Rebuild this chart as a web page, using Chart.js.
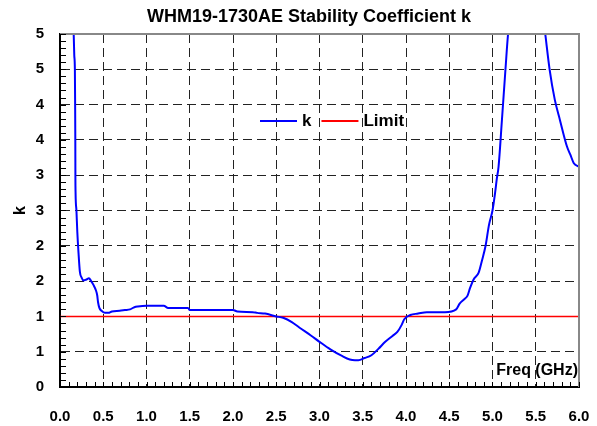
<!DOCTYPE html>
<html>
<head>
<meta charset="utf-8">
<script src="https://cdn.jsdelivr.net/npm/chart.js@4"></script>
<style>
  html, body { margin: 0; padding: 0; background: #fff; }
  #wrap { width: 597px; height: 426px; }
</style>
</head>
<body>
<div id="wrap"><canvas id="chart" width="597" height="426"></canvas></div>
<script>
const CHART_TITLE = 'WHM19-1730AE Stability Coefficient k';
const X_TITLE = 'Freq (GHz)';
const Y_TITLE = 'k';

// k versus frequency (values above 5 are clipped by the axis)
const FREQ_GHZ = [0.152, 0.165, 0.172, 0.175, 0.177, 0.178, 0.18, 0.19, 0.2, 0.214, 0.23, 0.25, 0.27, 0.3, 0.335, 0.36, 0.385, 0.415, 0.43, 0.44, 0.455, 0.48, 0.52, 0.56, 0.6, 0.69, 0.75, 0.81, 0.86, 0.9, 1.0, 1.2, 1.25, 1.48, 1.5, 2.0, 2.05, 2.23, 2.28, 2.37, 2.5, 2.58, 2.68, 2.77, 2.9, 3.0, 3.13, 3.26, 3.35, 3.41, 3.45, 3.52, 3.6, 3.68, 3.76, 3.84, 3.9, 3.95, 3.98, 4.05, 4.14, 4.24, 4.45, 4.58, 4.62, 4.68, 4.71, 4.74, 4.78, 4.84, 4.88, 4.92, 4.96, 5.0, 5.03, 5.05, 5.07, 5.11, 5.15, 5.18, 5.25, 5.4, 5.55, 5.61, 5.66, 5.72, 5.78, 5.86, 5.9, 5.94, 6.0];
const K_VALUES = [5.3, 4.7, 4.5, 4.0, 3.5, 3.0, 2.75, 2.5, 2.2, 1.9, 1.63, 1.55, 1.51, 1.52, 1.54, 1.5, 1.45, 1.37, 1.3, 1.2, 1.12, 1.08, 1.05, 1.05, 1.07, 1.08, 1.09, 1.1, 1.13, 1.14, 1.15, 1.15, 1.12, 1.12, 1.09, 1.09, 1.07, 1.06, 1.05, 1.04, 1.0, 0.98, 0.92, 0.84, 0.73, 0.64, 0.53, 0.44, 0.39, 0.38, 0.38, 0.41, 0.45, 0.54, 0.64, 0.72, 0.78, 0.88, 0.96, 1.02, 1.04, 1.06, 1.06, 1.1, 1.18, 1.25, 1.29, 1.4, 1.52, 1.62, 1.8, 2.0, 2.3, 2.5, 2.75, 2.95, 3.12, 3.8, 4.5, 5.0, 5.6, 6.0, 5.6, 5.0, 4.5, 4.07, 3.78, 3.41, 3.29, 3.17, 3.12];

const LIMIT_FREQ = [0, 6];
const LIMIT_VALUES = [1, 1];

const X_MIN = 0, X_MAX = 6, X_STEP = 0.5, X_MINOR = 0.1;
const Y_MIN = 0, Y_MAX = 5, Y_STEP = 0.5, Y_MINOR = 0.1;

const FONT = "'Liberation Sans', Arial, sans-serif";

function toPoints(xs, ys) {
  return xs.map((x, i) => ({ x: x, y: ys[i] }));
}

function gridColor(ctx) {
  const v = ctx.tick && ctx.tick.value;
  const s = ctx.scale;
  if (v === undefined) return '#222';
  return (Math.abs(v - s.min) < 1e-9 || Math.abs(v - s.max) < 1e-9) ? 'rgba(0,0,0,0)' : '#222';
}

// frame, inward minor ticks, title, legend and the in-plot x title
const decorations = {
  id: 'decorations',
  afterDraw(chart) {
    const { ctx, chartArea: a, scales: { x, y } } = chart;
    ctx.save();

    // gray top/right edges
    ctx.strokeStyle = '#888';
    ctx.lineWidth = 2;
    ctx.beginPath();
    ctx.moveTo(a.left, a.top);
    ctx.lineTo(a.right, a.top);
    ctx.lineTo(a.right, a.bottom);
    ctx.stroke();

    // minor ticks pointing into the plot
    ctx.strokeStyle = '#000';
    ctx.lineWidth = 1;
    ctx.beginPath();
    for (let v = X_MIN; v <= X_MAX + 1e-9; v += X_MINOR) {
      const px = Math.round(x.getPixelForValue(v)) + 0.5;
      ctx.moveTo(px, a.bottom);
      ctx.lineTo(px, a.bottom - 5);
    }
    for (let v = Y_MIN; v <= Y_MAX + 1e-9; v += Y_MINOR) {
      const py = Math.round(y.getPixelForValue(v)) + 0.5;
      ctx.moveTo(a.left, py);
      ctx.lineTo(a.left + 6, py);
    }
    ctx.stroke();

    ctx.fillStyle = '#000';
    ctx.textBaseline = 'middle';

    // title
    ctx.font = 'bold 18px ' + FONT;
    ctx.textAlign = 'center';
    ctx.fillText(CHART_TITLE, 309, 17);

    // x axis title, inside the plot at bottom right
    ctx.font = 'bold 16px ' + FONT;
    ctx.textAlign = 'right';
    ctx.fillText(X_TITLE, a.right - 1, 371);

    // legend
    ctx.font = 'bold 17px ' + FONT;
    ctx.textAlign = 'left';
    let lx = 260;
    const ly = 121;
    chart.data.datasets.forEach(ds => {
      ctx.strokeStyle = ds.borderColor;
      ctx.lineWidth = 2;
      ctx.beginPath();
      ctx.moveTo(lx, ly);
      ctx.lineTo(lx + 37, ly);
      ctx.stroke();
      ctx.fillText(ds.label, lx + 42, ly);
      lx += 42 + ctx.measureText(ds.label).width + 10;
    });

    ctx.restore();
  }
};

const chart = new Chart(document.getElementById('chart'), {
  type: 'line',
  data: {
    datasets: [
      { label: 'k', data: toPoints(FREQ_GHZ, K_VALUES), borderColor: '#0000ff', borderWidth: 2, pointRadius: 0, cubicInterpolationMode: 'monotone' },
      { label: 'Limit', data: toPoints(LIMIT_FREQ, LIMIT_VALUES), borderColor: '#ff0000', borderWidth: 1.5, pointRadius: 0 }
    ]
  },
  options: {
    responsive: false,
    animation: false,
    events: [],
    layout: { padding: { left: 0, right: 18, top: 34, bottom: 0 } },
    scales: {
      x: {
        type: 'linear', min: X_MIN, max: X_MAX,
        afterFit(scale) { scale.height = 39; scale.paddingLeft = 0; scale.paddingRight = 0; },
        ticks: { stepSize: X_STEP, padding: 21, color: '#000', font: { family: FONT, size: 15, weight: 'bold' }, callback: v => v.toFixed(1) },
        grid: { color: gridColor, lineWidth: 1, drawTicks: false },
        border: { color: '#000', width: 2, dash: [9, 5] }
      },
      y: {
        type: 'linear', min: Y_MIN, max: Y_MAX,
        afterFit(scale) { scale.width = 60; scale.paddingTop = 0; scale.paddingBottom = 0; },
        ticks: { stepSize: Y_STEP, padding: 16, color: '#000', font: { family: FONT, size: 15, weight: 'bold' }, callback: v => String(Math.round(v)) },
        grid: { color: gridColor, lineWidth: 1, drawTicks: false },
        border: { color: '#000', width: 2, dash: [9, 5] },
        title: { display: true, text: Y_TITLE, color: '#000', padding: { top: 11, bottom: 0 }, font: { family: FONT, size: 16, weight: 'bold' } }
      }
    },
    plugins: { legend: { display: false }, title: { display: false }, tooltip: { enabled: false } }
  },
  plugins: [decorations]
});
</script>
</body>
</html>
